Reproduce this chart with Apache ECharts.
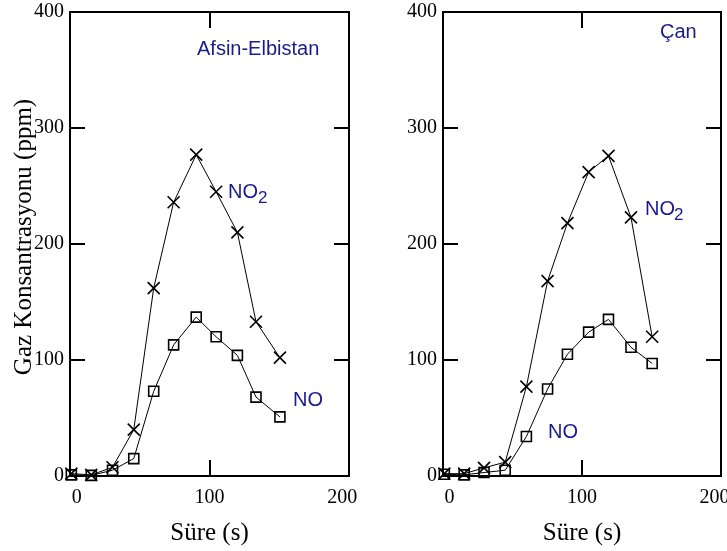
<!DOCTYPE html>
<html lang="tr">
<head>
    <meta charset="UTF-8">
    <title>Gaz Konsantrasyonu</title>
    <style>
        html, body { margin: 0; padding: 0; background: #fff; }
    </style>
</head>
<body>
    <div id="main" style="width: 727px;height:551px;"></div>
    <script src="https://cdn.jsdelivr.net/npm/echarts@6/dist/echarts.min.js"></script>
    <script type="text/javascript">
        // Afsin-Elbistan
        var timeA = [-4, 11, 27, 43, 58, 73, 90, 105, 121, 135, 153];
        var no2A = [2, 1, 7.5, 40, 162, 236, 277, 245, 210, 133, 102];
        var noA = [1, 0.5, 5, 15, 73, 113, 137, 120, 104, 68, 51];

        // Çan
        var timeC = [-4, 11, 26, 42, 58, 74, 89, 105, 120, 137, 153];
        var no2C = [2, 2, 7, 12, 77, 168, 218, 262, 276, 223, 120];
        var noC = [1.5, 1, 3, 5, 34, 75, 105, 124, 135, 111, 97];

        var xLabels = [0, 100, 200];

        var SERIF = 'Liberation Serif, Times New Roman, serif';
        var SANS = 'Liberation Sans, Arial, sans-serif';
        var BLUE = '#1a1a8c';

        function pairs(xs, ys) {
            return xs.map(function (x, i) { return [x, ys[i]]; });
        }

        var crossPath = 'path://M0,0L10,10M10,0L0,10';

        // x range -5..205; interval 105 puts the only inner tick at 100
        function xAxisFor(g, pos, showName) {
            var ax = {
                type: 'value', gridIndex: g, position: pos,
                min: -5, max: 205, interval: 105,
                name: showName ? 'Süre (s)' : '',
                nameLocation: 'middle', nameGap: 45, nameMoveOverlap: false,
                nameTextStyle: { fontFamily: SERIF, fontSize: 25, color: '#000' },
                axisLine: { show: false, onZero: false },
                axisTick: { show: true, inside: true, length: 16,
                    lineStyle: { color: '#000', width: 2 } },
                axisLabel: { show: pos === 'bottom', margin: 12,
                    fontFamily: SERIF, fontSize: 20, color: '#000' },
                splitLine: { show: false }
            };
            if (pos === 'bottom') ax.axisLabel.customValues = xLabels;
            return ax;
        }

        function yAxisFor(g, pos, showName) {
            return {
                type: 'value', gridIndex: g, position: pos,
                min: 0, max: 400, interval: 100,
                name: showName ? 'Gaz Konsantrasyonu (ppm)' : '',
                nameLocation: 'middle', nameGap: 33, nameMoveOverlap: false,
                nameTextStyle: { fontFamily: SERIF, fontSize: 25, color: '#000',
                    padding: [0, 0, 0, 14] },
                axisLine: { show: false, onZero: false },
                axisTick: { show: true, inside: true, length: 15,
                    lineStyle: { color: '#000', width: 2 } },
                axisLabel: { show: pos === 'left', margin: 6,
                    fontFamily: SERIF, fontSize: 20, color: '#000' },
                splitLine: { show: false }
            };
        }

        function lineSeries(xi, yi, data, symbol, size) {
            return {
                type: 'line', xAxisIndex: xi, yAxisIndex: yi,
                data: data,
                symbol: symbol, symbolSize: size,
                showAllSymbol: true,
                clip: false,
                lineStyle: { color: '#000', width: 1 },
                itemStyle: { color: 'rgba(0,0,0,0)', borderColor: '#000', borderWidth: 1.6 },
                emphasis: { disabled: true },
                animation: false
            };
        }

        var myChart = echarts.init(document.getElementById('main'));

        var option = {
            backgroundColor: '#fff',
            animation: false,
            grid: [
                { left: 70, top: 12, width: 279, height: 464, show: true, outerBoundsMode: 'none',
                  borderColor: '#000', borderWidth: 2, backgroundColor: 'transparent' },
                { left: 443, top: 12, width: 278, height: 464, show: true, outerBoundsMode: 'none',
                  borderColor: '#000', borderWidth: 2, backgroundColor: 'transparent' }
            ],
            xAxis: [
                xAxisFor(0, 'bottom', true),
                xAxisFor(0, 'top', false),
                xAxisFor(1, 'bottom', true),
                xAxisFor(1, 'top', false)
            ],
            yAxis: [
                yAxisFor(0, 'left', true),
                yAxisFor(0, 'right', false),
                yAxisFor(1, 'left', false),
                yAxisFor(1, 'right', false)
            ],
            series: [
                lineSeries(0, 0, pairs(timeA, no2A), crossPath, 12),
                lineSeries(0, 0, pairs(timeA, noA), 'rect', 10),
                lineSeries(2, 2, pairs(timeC, no2C), crossPath, 12),
                lineSeries(2, 2, pairs(timeC, noC), 'rect', 10)
            ],
            graphic: [
                { type: 'text', left: 197, top: 39, style: { text: 'Afsin-Elbistan', fontFamily: SANS, fontSize: 20, fill: BLUE } },
                { type: 'text', left: 228, top: 182, style: { text: 'NO', fontFamily: SANS, fontSize: 20, fill: BLUE } },
                { type: 'text', left: 258, top: 190, style: { text: '2', fontFamily: SANS, fontSize: 17, fill: BLUE } },
                { type: 'text', left: 293, top: 390, style: { text: 'NO', fontFamily: SANS, fontSize: 20, fill: BLUE } },
                { type: 'text', left: 660, top: 22, style: { text: 'Çan', fontFamily: SANS, fontSize: 20, fill: BLUE } },
                { type: 'text', left: 645, top: 199, style: { text: 'NO', fontFamily: SANS, fontSize: 20, fill: BLUE } },
                { type: 'text', left: 674, top: 207, style: { text: '2', fontFamily: SANS, fontSize: 17, fill: BLUE } },
                { type: 'text', left: 548, top: 422, style: { text: 'NO', fontFamily: SANS, fontSize: 20, fill: BLUE } }
            ]
        };

        myChart.setOption(option);
    </script>
</body>
</html>
